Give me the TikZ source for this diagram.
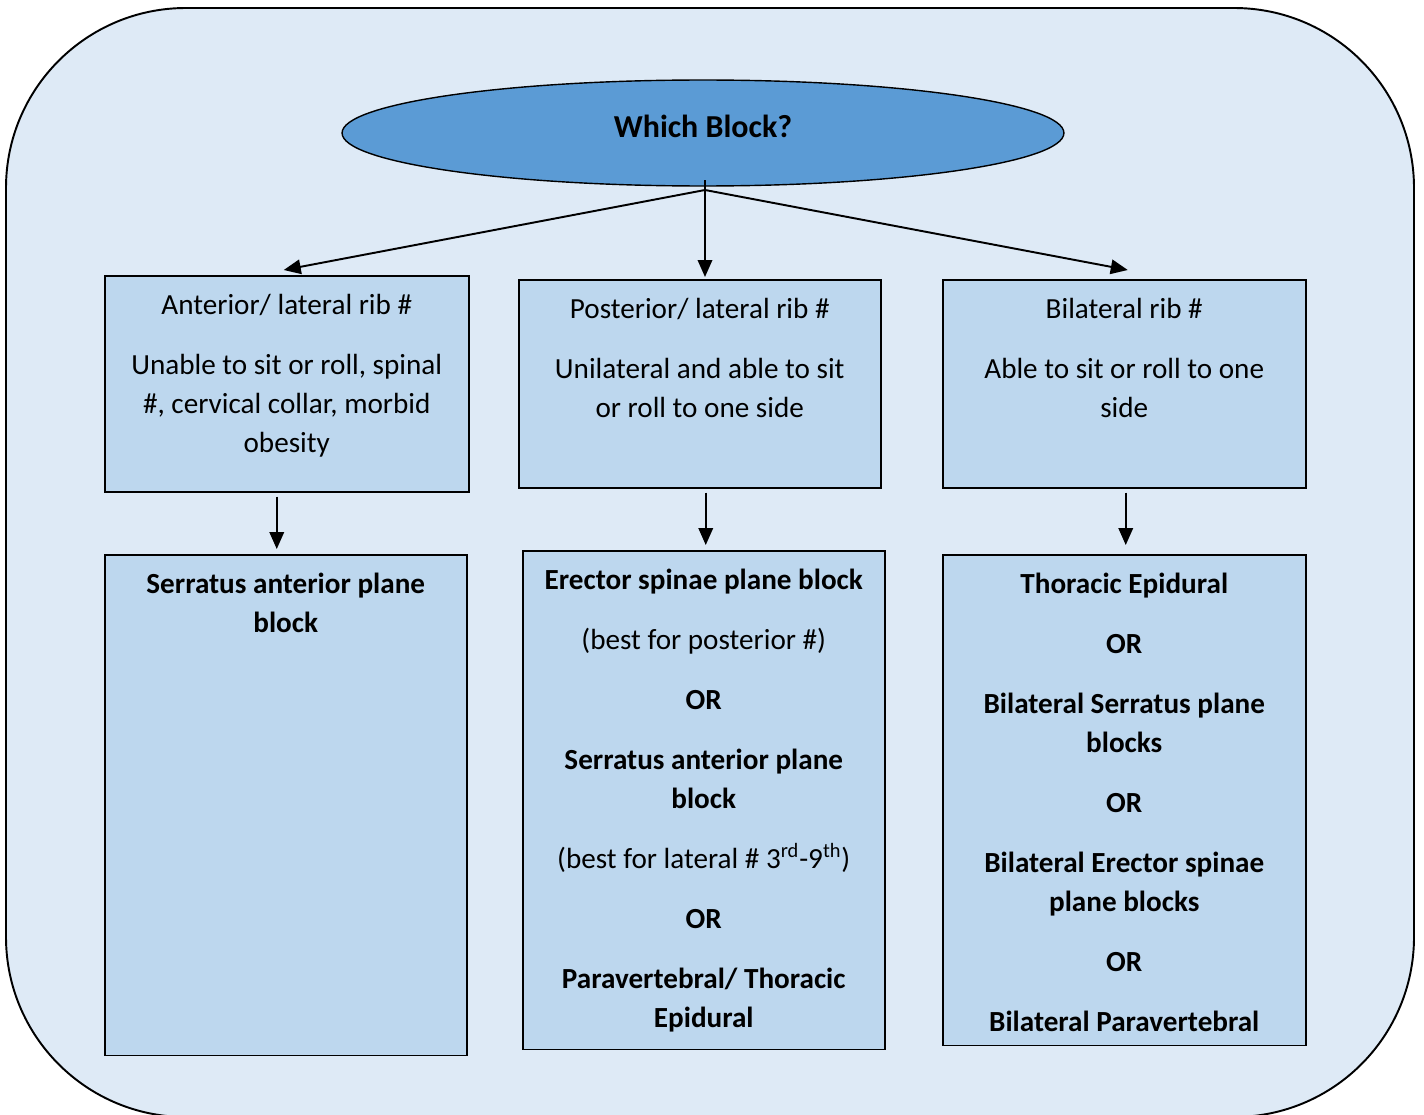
\documentclass[tikz,border=0pt]{standalone}
\usepackage{fontspec}
\setmainfont{Carlito}
\usetikzlibrary{shapes.geometric,arrows.meta}
\definecolor{backdrop}{HTML}{DEEAF6}
\definecolor{boxfill}{HTML}{BDD7EE}
\definecolor{topfill}{HTML}{5B9BD5}

\begin{document}
\begin{tikzpicture}[x=0.02cm, y=-0.02cm,
    >={Triangle[length=3.4mm,width=2.9mm]},
    flow/.style={->, line width=1.1pt},
    box/.style={draw, line width=0.9pt, fill=boxfill, anchor=north west, inner sep=0pt},
    txt/.style={align=center, anchor=north, inner sep=0pt,
                font=\fontsize{16.6}{22.2}\selectfont},
    question/.style={ellipse, draw, line width=0.8pt, fill=topfill, inner sep=0pt,
                     minimum width=14.44cm, minimum height=2.12cm,
                     font=\fontsize{18.2}{20}\selectfont\bfseries}]
  \def\pgap{11.9pt}
  % canvas 1424 x 1115 px
  \path[use as bounding box] (0,0) rectangle (1424,1115);
  \fill[backdrop, draw=black, line width=1.1pt, rounded corners=3.6cm] (6,8) rectangle (1414,1117);

  % ================= question =================
  \node[question] (q) at (703,133) {\raisebox{0.25cm}{Which Block?}};
  \coordinate (fork) at (705,190);

  % ================= situation boxes =================
  \node[box, minimum width=7.28cm, minimum height=4.32cm] (a1) at (104,275) {};
  \node[box, minimum width=7.24cm, minimum height=4.16cm] (b1) at (518,279) {};
  \node[box, minimum width=7.26cm, minimum height=4.16cm] (c1) at (942,279) {};
  \node[txt] (a1t) at ([yshift=-0.38cm]a1.north)
    {Anterior/ lateral rib \#\\[\pgap]Unable to sit or roll, spinal\\\#, cervical collar, morbid\\obesity};
  \node[txt] (b1t) at ([yshift=-0.38cm]b1.north)
    {Posterior/ lateral rib \#\\[\pgap]Unilateral and able to sit\\or roll to one side};
  \node[txt] (c1t) at ([yshift=-0.38cm]c1.north)
    {Bilateral rib \#\\[\pgap]Able to sit or roll to one\\side};

  % ================= block boxes =================
  \node[box, minimum width=7.24cm, minimum height=10.02cm] (a2) at (104,554) {};
  \node[box, minimum width=7.24cm, minimum height=9.98cm] (b2) at (522,550) {};
  \node[box, minimum width=7.26cm, minimum height=9.82cm] (c2) at (942,554) {};
  \node[txt, font=\fontsize{16.6}{22.2}\selectfont\bfseries] (a2t) at ([yshift=-0.38cm]a2.north)
    {Serratus anterior plane\\block};
  \node[txt] (b2t) at ([yshift=-0.38cm]b2.north)
    {\textbf{Erector spinae plane block}\\[\pgap](best for posterior \#)\\[\pgap]\textbf{OR}\\[\pgap]
     \textbf{Serratus anterior plane}\\\textbf{block}\\[\pgap]
     (best for lateral \# 3\textsuperscript{rd}-9\textsuperscript{th})\\[\pgap]\textbf{OR}\\[\pgap]
     \textbf{Paravertebral/ Thoracic}\\\textbf{Epidural}};
  \node[txt, font=\fontsize{16.6}{22.2}\selectfont\bfseries] (c2t) at ([yshift=-0.38cm]c2.north)
    {Thoracic Epidural\\[\pgap]OR\\[\pgap]Bilateral Serratus plane\\blocks\\[\pgap]OR\\[\pgap]
     Bilateral Erector spinae\\plane blocks\\[\pgap]OR\\[\pgap]Bilateral Paravertebral};

  % ================= arrows =================
  \draw[flow] (fork) -- ([xshift=-0.06cm,yshift=0.1cm]a1.north);
  \draw[flow] ([yshift=0.2cm]fork) -- ([yshift=0.04cm]fork |- b1.north);
  \draw[flow] (fork) -- ([xshift=0.07cm,yshift=0.18cm]c1.north);
  \draw[flow, shorten >=0.1cm] ([xshift=-0.2cm,yshift=-0.08cm]a1.south) -- ([xshift=-0.2cm]a1.south |- a2.north);
  \draw[flow, shorten >=0.1cm] ([xshift=0.12cm,yshift=-0.08cm]b1.south) -- ([xshift=0.12cm]b1.south |- b2.north);
  \draw[flow, shorten >=0.18cm] ([xshift=0.03cm,yshift=-0.08cm]c1.south) -- ([xshift=0.03cm]c1.south |- c2.north);
\end{tikzpicture}
\end{document}
